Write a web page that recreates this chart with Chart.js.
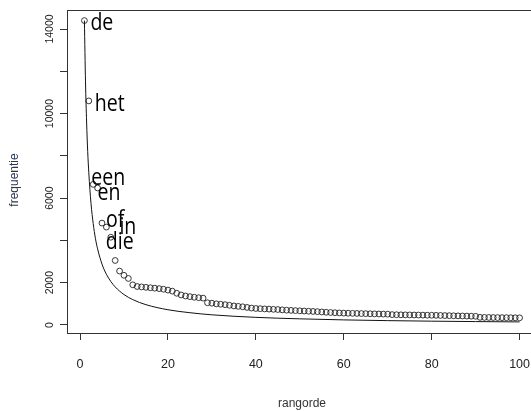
<!DOCTYPE html>
<html>
<head>
<meta charset="utf-8">
<script src="https://cdn.jsdelivr.net/npm/chart.js@4/dist/chart.umd.min.js"></script>
<style>
  html, body { margin: 0; padding: 0; overflow: hidden; background: #fff; }
  #wrap { width: 560px; height: 411px; }
</style>
</head>
<body>
<div id="wrap"><canvas id="zipf"></canvas></div>
<script>
// rank 1..100 with observed word frequency
const ranks = [];
for (let i = 1; i <= 100; i++) ranks.push(i);

const freq = [
  14400, 10600, 6650, 6480, 4820, 4630, 4150, 3050, 2550, 2350,
  2200, 1900, 1820, 1800, 1780, 1760, 1740, 1720, 1690, 1650,
  1600, 1500, 1420, 1370, 1340, 1310, 1290, 1270, 1050, 1030,
  1000, 980, 960, 930, 900, 880, 860, 830, 800, 780,
  770, 760, 750, 740, 730, 715, 700, 690, 680, 670,
  660, 650, 640, 630, 615, 600, 590, 580, 570, 560,
  555, 550, 545, 540, 535, 530, 525, 520, 515, 510,
  490, 485, 480, 478, 475, 472, 470, 465, 462, 460,
  455, 450, 445, 440, 435, 430, 425, 420, 415, 410,
  360, 358, 355, 352, 350, 347, 345, 342, 340, 338
];

// smooth reference curve
const curveX = [1, 1.25, 1.5, 1.75, 2, 2.5, 3, 3.5, 4, 5, 6, 7, 8, 10, 12, 15, 20, 25, 30, 40, 50, 60, 70, 80, 90, 100];
const curveY = [14400, 11500, 9600, 8200, 7200, 5750, 4800, 4100, 3600, 2880, 2400, 2060, 1800, 1440, 1200, 960, 720, 580, 480, 360, 290, 240, 205, 180, 160, 145];

// words written next to the first points
const words = ['de', 'het', 'een', 'en', 'of', 'in', 'die'];

const xTicks = [0, 20, 40, 60, 80, 100];
const yTicks = [0, 2000, 4000, 6000, 8000, 10000, 12000, 14000];
const yTickLabels = ['0', '2000', '', '6000', '', '10000', '', '14000'];

// pixel offsets of each word from its point (text left, baseline)
const wordOffsets = [[6, 9], [6, 10], [-2, 1], [0, 12], [4, 4], [13, 7], [-5, 12]];

const boxAndLabels = {
  id: 'boxAndLabels',
  afterDraw(chart) {
    const ctx = chart.ctx;
    const a = chart.chartArea;
    const xs = chart.scales.x, ys = chart.scales.y;
    ctx.save();
    // rest of the R-style box
    ctx.strokeStyle = '#333';
    ctx.lineWidth = 1;
    ctx.beginPath();
    ctx.moveTo(Math.round(a.left) + 0.5, Math.round(a.top) + 0.5);
    ctx.lineTo(Math.round(a.right) + 0.5, Math.round(a.top) + 0.5);
    ctx.lineTo(Math.round(a.right) + 0.5, Math.round(a.bottom) + 0.5);
    ctx.stroke();

    // rotated y tick labels
    ctx.fillStyle = '#222';
    ctx.font = '10.5px "Liberation Sans", Arial, sans-serif';
    ctx.textAlign = 'center';
    ctx.textBaseline = 'middle';
    yTicks.forEach((v, i) => {
      if (!yTickLabels[i]) return;
      ctx.save();
      ctx.translate(50, ys.getPixelForValue(v));
      ctx.rotate(-Math.PI / 2);
      ctx.fillText(yTickLabels[i], 0, 0);
      ctx.restore();
    });

    // y axis title
    ctx.save();
    ctx.fillStyle = '#2b3550';
    ctx.font = '12px "Liberation Sans", Arial, sans-serif';
    ctx.translate(15, 180);
    ctx.rotate(-Math.PI / 2);
    ctx.fillText('frequentie', 0, 0);
    ctx.restore();

    // word labels
    ctx.fillStyle = '#000';
    ctx.font = '23px "Open Sans", sans-serif';
    ctx.textAlign = 'left';
    ctx.textBaseline = 'alphabetic';
    words.forEach((w, i) => {
      const px = xs.getPixelForValue(ranks[i]) + wordOffsets[i][0];
      const py = ys.getPixelForValue(freq[i]) + wordOffsets[i][1];
      ctx.save();
      ctx.translate(px, py);
      ctx.scale(0.85, 1);
      ctx.fillText(w, 0, 0);
      ctx.restore();
    });
    ctx.restore();
  }
};

const data = {
  datasets: [
    {
      label: 'curve',
      data: curveX.map((x, i) => ({ x: x, y: curveY[i] })),
      showLine: true,
      borderColor: '#111',
      borderWidth: 1,
      pointRadius: 0,
      cubicInterpolationMode: 'monotone',
      fill: false
    },
    {
      label: 'frequentie',
      data: ranks.map((r, i) => ({ x: r, y: freq[i] })),
      showLine: false,
      pointRadius: 2.9,
      pointBorderWidth: 0.9,
      pointBorderColor: '#222',
      pointBackgroundColor: 'rgba(0,0,0,0)'
    }
  ]
};

const config = {
  type: 'scatter',
  data: data,
  plugins: [boxAndLabels],
  options: {
    animation: false,
    responsive: true,
    maintainAspectRatio: false,
    layout: { padding: { top: 10, right: 23, left: 0, bottom: 0 } },
    plugins: { legend: { display: false }, tooltip: { enabled: false } },
    scales: {
      x: {
        type: 'linear',
        min: -2.96,
        max: 103.96,
        afterFit: s => { s.height = 78; },
        afterBuildTicks: s => { s.ticks = xTicks.map(v => ({ value: v })); },
        grid: { drawOnChartArea: false, drawTicks: true, tickLength: 7, tickColor: '#333' },
        border: { display: true, color: '#333', width: 1 },
        ticks: {
          color: '#222',
          font: { family: '"Liberation Sans", Arial, sans-serif', size: 12.5 },
          padding: 17,
          maxRotation: 0
        },
        title: {
          display: true,
          text: 'rangorde',
          color: '#333',
          font: { family: '"Liberation Sans", Arial, sans-serif', size: 12 },
          padding: { top: 0, bottom: 0 }
        }
      },
      y: {
        type: 'linear',
        min: -380,
        max: 14900,
        afterFit: s => { s.width = 67; },
        afterBuildTicks: s => { s.ticks = yTicks.map(v => ({ value: v })); },
        grid: { drawOnChartArea: false, drawTicks: true, tickLength: 7, tickColor: '#333' },
        border: { display: true, color: '#333', width: 1 },
        ticks: { display: false }
      }
    }
  }
};

const myChart = new Chart(document.getElementById('zipf'), config);
</script>
</body>
</html>
